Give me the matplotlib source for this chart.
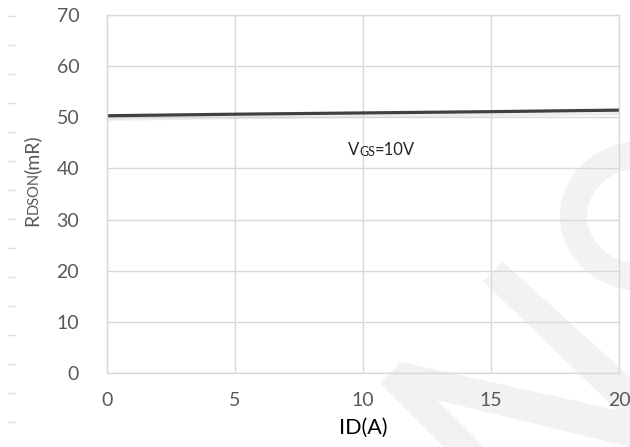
import matplotlib
matplotlib.use("Agg")
import matplotlib.pyplot as plt
from matplotlib.patches import Polygon, Ellipse
from matplotlib.lines import Line2D
import matplotlib.patheffects as pe

# data
id_a = [0, 5, 10, 15, 20]
rdson = [50.3, 50.6, 50.85, 51.1, 51.4]
x_ticks = [0, 5, 10, 15, 20]
y_ticks = [0, 10, 20, 30, 40, 50, 60, 70]

plt.rcParams['font.family'] = ['Lato', 'DejaVu Sans']

W, H = 630, 447
fig = plt.figure(figsize=(W / 100, H / 100), dpi=100)
fig.patch.set_facecolor('white')

def fp(x, y):
    return (x / W, 1 - y / H)

wm = '#f2f2f2'
# watermark shapes (decoration)
polyA = [fp(483, 281), fp(503, 262), fp(630, 377), fp(630, 423)]
polyB = [fp(380, 383), fp(401, 362), fp(630, 413), fp(630, 447), fp(437, 400),
         fp(484, 447), fp(444, 447)]
for poly in (polyA, polyB):
    fig.patches.append(Polygon(poly, closed=True, transform=fig.transFigure,
                               facecolor=wm, edgecolor='none', zorder=-2))
fig.patches.append(Ellipse(fp(642, 216), 164 / W, 150 / H, transform=fig.transFigure,
                           facecolor=wm, edgecolor='none', zorder=-2))
fig.patches.append(Ellipse(fp(642, 216), 110 / W, 96 / H, transform=fig.transFigure,
                           facecolor='white', edgecolor='none', zorder=-1))

# faint left dashes
for k in range(15):
    yp = 15.7 + 29.0 * k
    fig.add_artist(Line2D([8 / W, 15 / W], [1 - yp / H, 1 - yp / H],
                          transform=fig.transFigure, color='#e0e0e0', lw=1, zorder=-1))

ax = fig.add_axes([107 / W, (H - 373) / H, (619 - 107) / W, (373 - 15) / H])
ax.set_zorder(2)
ax.set_facecolor('none')
ax.set_xlim(0, 20)
ax.set_ylim(0, 70)
ax.set_xticks(x_ticks)
ax.set_yticks(y_ticks)
ax.grid(True, color='#d9d9d9', lw=1)
ax.set_axisbelow(True)
for s in ax.spines.values():
    s.set_color('#d9d9d9')
    s.set_linewidth(1)
ax.tick_params(length=0, labelsize=14, colors='#595959', pad=14)
ax.tick_params(axis='y', pad=20)

ax.plot(id_a, rdson, color='#404040', lw=2.3, solid_capstyle='butt',
        path_effects=[pe.SimpleLineShadow(offset=(0, -2.5), shadow_color='#d0d0d0', alpha=0.4),
                      pe.Normal()])

# x label
ax.text(10, -0.125, 'ID(A)', transform=ax.get_xaxis_transform(), ha='center', va='top',
        fontsize=15.5, color='#000000')

# VGS annotation
t1 = ax.text(9.4, 42.0, 'V', fontsize=12, color='#262626', ha='left', va='bottom')
t2 = ax.annotate('GS', xy=(1, 0), xycoords=t1, fontsize=9, color='#262626',
                 ha='left', va='bottom')
ax.annotate('=10V', xy=(1, 0), xycoords=t2, fontsize=12, color='#262626',
            ha='left', va='bottom')

# y label
yl1 = fig.text(41 / W, 1 - 226 / H, 'R', rotation=90, fontsize=14, color='#595959',
               ha='right', va='bottom')
a2 = ax.annotate('DSON', xy=(1, 1), xycoords=yl1, rotation=90, fontsize=10.5,
                 color='#595959', ha='right', va='bottom', annotation_clip=False)
ax.annotate('(mR)', xy=(1, 1), xycoords=a2, xytext=(0, -2), textcoords='offset pixels',
            rotation=90, fontsize=14,
            color='#595959', ha='right', va='bottom', annotation_clip=False)

fig.savefig('out.png', dpi=100)
